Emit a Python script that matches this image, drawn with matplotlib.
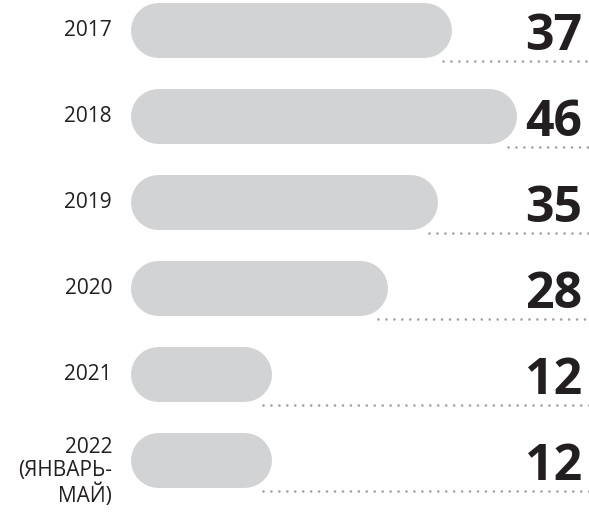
import matplotlib
matplotlib.use("Agg")
import matplotlib.pyplot as plt
import matplotlib.transforms as mtransforms

# data
years = ["2017", "2018", "2019", "2020", "2021", "2022\n(ЯНВАРЬ-\nМАЙ)"]
values = [37, 46, 35, 28, 12, 12]

bar_color = "#d1d3d4"
dot_color = "#9d9fa2"
text_color = "#231f20"

W, H, dpi = 589, 513, 100
fig = plt.figure(figsize=(W / dpi, H / dpi), dpi=dpi)
ax = fig.add_axes([0, 0, 1, 1])

# pixel layout -> data scale
x0_px = 158.0      # data 0
px_per_unit = 7.2
row_px = 86.0
top_px = 30.0
ax.set_xlim(-x0_px / px_per_unit, (W - x0_px) / px_per_unit)
ax.set_ylim((H - top_px) / row_px, -top_px / row_px)
ax.axis("off")

bar_lw = 55 * 72 / dpi
trans_lab = mtransforms.blended_transform_factory(ax.transAxes, ax.transData)

for i, (yr, v) in enumerate(zip(years, values)):
    # rounded bar
    ax.plot([0, v], [i, i], color=bar_color, lw=bar_lw,
            solid_capstyle="round", zorder=2)
    # dotted leader line under the value
    ax.plot([v + 2.6, 62], [i + 0.355, i + 0.355], color=dot_color, lw=1.9,
            linestyle=(0, (0.01, 3.0)), dash_capstyle="round", zorder=1)
    # value
    ax.text(582 / W, i + 0.235, str(v), transform=trans_lab, ha="right",
            va="baseline", fontsize=36, fontweight="bold",
            family="Open Sans", color=text_color)
    # year label
    dy = 0.14 if "\n" in yr else 0.0
    ax.text(112 / W, i + dy, yr, transform=trans_lab, ha="right",
            va="center", fontsize=15, family="Open Sans",
            color=text_color, linespacing=1.15, multialignment="right")

fig.savefig("out.png", dpi=dpi)
